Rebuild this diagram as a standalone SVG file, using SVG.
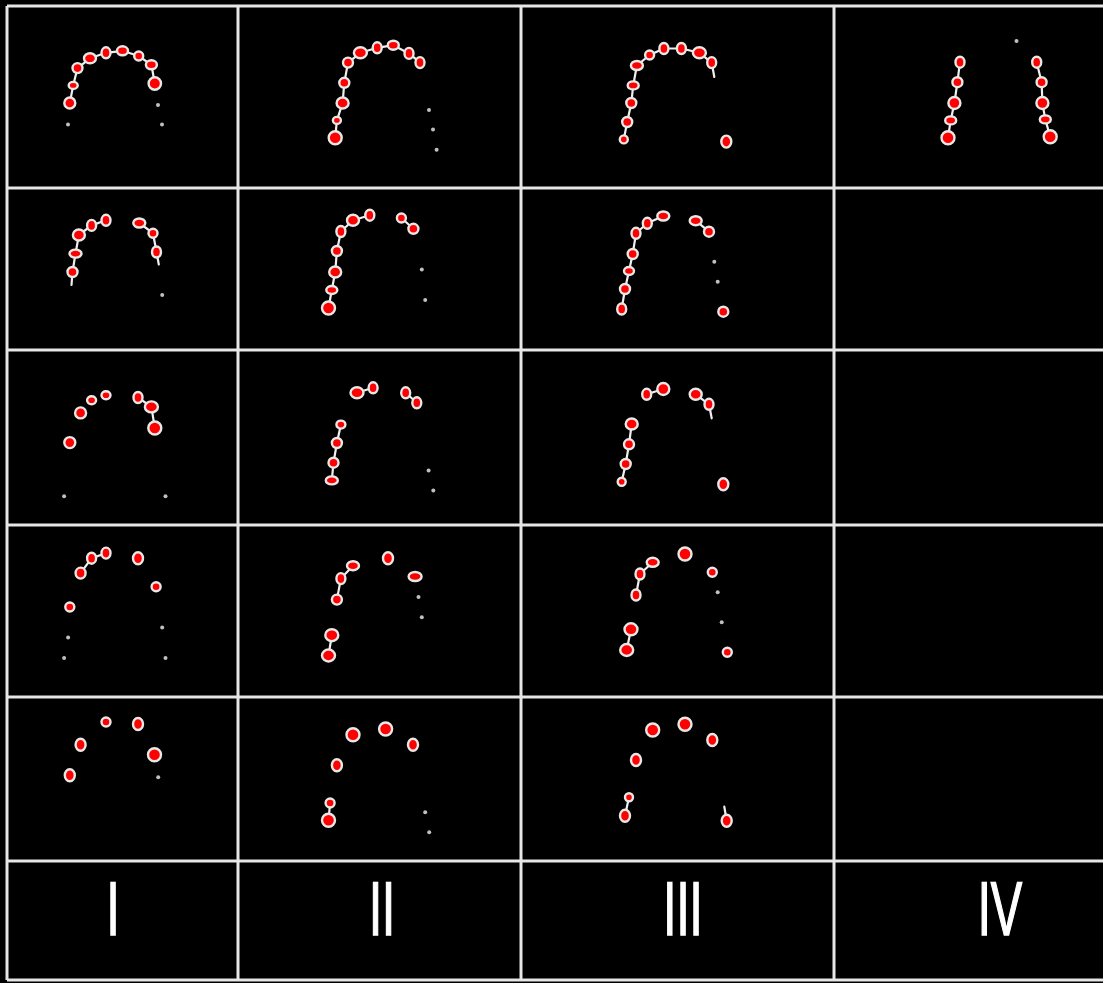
<svg xmlns="http://www.w3.org/2000/svg" width="1103" height="983" viewBox="0 0 1103 983">
<style>
.bg{fill:#000}
.grid{stroke:#e6e6e6;stroke-width:3;fill:none}
.ln{stroke:#f0f0f0;stroke-width:2.2;fill:none;stroke-linejoin:round;stroke-linecap:round}
.d{fill:#ff0000;stroke:#e8e8e8;stroke-width:2.4}
.g{fill:#c0c0c0}
.lbl{fill:#fff;stroke:#fff;stroke-width:1.6;font-family:"Liberation Sans",Arial,sans-serif;font-size:76px;text-anchor:middle}
</style>
<rect class="bg" x="0" y="0" width="1103" height="983"/>
<g id="grid">
<path class="grid" d="M7,6H1103M7,188H1103M7,350H1103M7,525H1103M7,697H1103M7,861H1103M7,980H1103M7,6V980M238,6V980M521,6V980M834,6V980"/>
</g>

<g id="r1c1">
<polyline class="ln" points="69.8,103 73.2,85.4 77.5,68.1 90,58.3 106,52.8 122.5,50.8 138.7,56 151.4,64.8 154.8,83.5"/>
<circle class="d" cx="69.8" cy="103" r="5.5"/><ellipse class="d" cx="73.2" cy="85.4" rx="4.5" ry="3.5"/><circle class="d" cx="77.5" cy="68.1" r="5"/><ellipse class="d" cx="90" cy="58.3" rx="6" ry="5"/><ellipse class="d" cx="106" cy="52.8" rx="4.5" ry="5.5"/><ellipse class="d" cx="122.5" cy="50.8" rx="5.5" ry="4.5"/><circle class="d" cx="138.7" cy="56" r="4.5"/><ellipse class="d" cx="151.4" cy="64.8" rx="5.5" ry="4.5"/><circle class="d" cx="154.8" cy="83.5" r="6.2"/>
<circle class="g" cx="68" cy="124.6" r="2"/><circle class="g" cx="158" cy="105" r="2"/><circle class="g" cx="162" cy="124.6" r="2"/>
</g>
<g id="r1c2">
<polyline class="ln" points="335.2,137.7 336.9,120.4 342.6,103 344.3,82.8 348,62.6 360.4,52.8 377.2,47.8 393.3,45.2 409,53.4 420,62.6"/>
<circle class="d" cx="335.2" cy="137.7" r="6.5"/><ellipse class="d" cx="336.9" cy="120.4" rx="4" ry="3.5"/><ellipse class="d" cx="342.6" cy="103" rx="6" ry="5.5"/><circle class="d" cx="344.3" cy="82.8" r="5"/><circle class="d" cx="348" cy="62.6" r="5"/><ellipse class="d" cx="360.4" cy="52.8" rx="6.5" ry="5.5"/><ellipse class="d" cx="377.2" cy="47.8" rx="4.5" ry="5.5"/><ellipse class="d" cx="393.3" cy="45.2" rx="5.5" ry="4.5"/><ellipse class="d" cx="409" cy="53.4" rx="4.5" ry="5.5"/><ellipse class="d" cx="420" cy="62.6" rx="4.5" ry="5.5"/>
<circle class="g" cx="429" cy="110" r="2"/><circle class="g" cx="433" cy="129.5" r="2"/><circle class="g" cx="436.6" cy="149.8" r="2"/>
</g>
<g id="r1c3">
<polyline class="ln" points="623.8,139.4 627.2,122 631.3,103 633.2,85.4 636.9,65.5 649.6,55 663.9,48.5 681.4,48.5 699.4,52.8 711.7,62.6 714.3,77"/>
<circle class="d" cx="623.8" cy="139.4" r="4"/><circle class="d" cx="627.2" cy="122" r="5"/><circle class="d" cx="631.3" cy="103" r="5"/><ellipse class="d" cx="633.2" cy="85.4" rx="5.5" ry="4"/><ellipse class="d" cx="636.9" cy="65.5" rx="6" ry="4.5"/><circle class="d" cx="649.6" cy="55" r="4.5"/><ellipse class="d" cx="663.9" cy="48.5" rx="4.5" ry="5.5"/><ellipse class="d" cx="681.4" cy="48.5" rx="4.5" ry="5.5"/><ellipse class="d" cx="699.4" cy="52.8" rx="6.5" ry="5.5"/><ellipse class="d" cx="711.7" cy="62.6" rx="4.5" ry="5.5"/>
<ellipse class="d" cx="726.3" cy="141.6" rx="5" ry="6"/>
</g>
<g id="r1c4">
<polyline class="ln" points="960,62.2 957.4,82.2 954.4,103 950.7,120.4 948,137.7"/>
<polyline class="ln" points="1036.7,62.2 1041.6,82.2 1042.4,103 1045.3,119.4 1050.2,136.7"/>
<ellipse class="d" cx="960" cy="62.2" rx="4.5" ry="5.5"/><circle class="d" cx="957.4" cy="82.2" r="5"/><circle class="d" cx="954.4" cy="103" r="6"/><ellipse class="d" cx="950.7" cy="120.4" rx="5.5" ry="4"/><circle class="d" cx="948" cy="137.7" r="6.5"/>
<ellipse class="d" cx="1036.7" cy="62.2" rx="4.5" ry="5.5"/><circle class="d" cx="1041.6" cy="82.2" r="5"/><circle class="d" cx="1042.4" cy="103" r="6"/><ellipse class="d" cx="1045.3" cy="119.4" rx="5.5" ry="4"/><circle class="d" cx="1050.2" cy="136.7" r="6.5"/>
<circle class="g" cx="1016.5" cy="41" r="2"/>
</g>

<g id="r2c1">
<polyline class="ln" points="71.5,285 72.5,272 75.5,253.6 78.9,235 91.6,225.4 106,220.3"/>
<polyline class="ln" points="139.3,223 153,233.2 156.5,252 158.8,264.5"/>
<circle class="d" cx="72.5" cy="272" r="5"/><ellipse class="d" cx="75.5" cy="253.6" rx="6" ry="4"/><ellipse class="d" cx="78.9" cy="235" rx="6" ry="5.5"/><ellipse class="d" cx="91.6" cy="225.4" rx="4.5" ry="5.5"/><ellipse class="d" cx="106" cy="220.3" rx="4.5" ry="5.5"/>
<ellipse class="d" cx="139.3" cy="223" rx="6" ry="4.5"/><circle class="d" cx="153" cy="233.2" r="4.5"/><ellipse class="d" cx="156.5" cy="252" rx="4.5" ry="5.5"/>
<circle class="g" cx="162.2" cy="295" r="2"/>
</g>
<g id="r2c2">
<polyline class="ln" points="328.5,308 331.8,290 335.2,272 336.9,251 340.9,231.5 353,220.3 369.8,215.2"/>
<polyline class="ln" points="401.4,218 413.4,228.8"/>
<circle class="d" cx="328.5" cy="308" r="6.5"/><ellipse class="d" cx="331.8" cy="290" rx="5.5" ry="4"/><ellipse class="d" cx="335.2" cy="272" rx="6" ry="5.5"/><circle class="d" cx="336.9" cy="251" r="5"/><ellipse class="d" cx="340.9" cy="231.5" rx="4.5" ry="5.5"/><ellipse class="d" cx="353" cy="220.3" rx="6" ry="5.5"/><ellipse class="d" cx="369.8" cy="215.2" rx="4.5" ry="5.5"/>
<circle class="d" cx="401.4" cy="218" r="4.5"/><circle class="d" cx="413.4" cy="228.8" r="5"/>
<circle class="g" cx="421.8" cy="269.6" r="2"/><circle class="g" cx="425.2" cy="300" r="2"/>
</g>
<g id="r2c3">
<polyline class="ln" points="621.7,309 625,289 629,271 632.7,254 636,233.3 647.3,223.3 663.3,216"/>
<polyline class="ln" points="695.7,220.7 709,231.7"/>
<ellipse class="d" cx="621.7" cy="309" rx="4.5" ry="5.5"/><circle class="d" cx="625" cy="289" r="5"/><ellipse class="d" cx="629" cy="271" rx="5" ry="4"/><circle class="d" cx="632.7" cy="254" r="5"/><ellipse class="d" cx="636" cy="233.3" rx="4.5" ry="5.5"/><ellipse class="d" cx="647.3" cy="223.3" rx="4.5" ry="5.5"/><ellipse class="d" cx="663.3" cy="216" rx="6" ry="4.5"/>
<ellipse class="d" cx="695.7" cy="220.7" rx="6" ry="4.5"/><circle class="d" cx="709" cy="231.7" r="5"/>
<circle class="g" cx="714.3" cy="261.7" r="2"/><circle class="g" cx="717.7" cy="281.7" r="2"/>
<circle class="d" cx="723.3" cy="311.7" r="5"/>
</g>

<g id="r3c1">
<polyline class="ln" points="138,397.5 151.4,406.9 154.8,428"/>
<circle class="d" cx="69.8" cy="442.6" r="5.5"/><circle class="d" cx="80.6" cy="412.9" r="5.5"/><ellipse class="d" cx="91.6" cy="400.2" rx="4.5" ry="4"/><ellipse class="d" cx="106" cy="395.2" rx="4.5" ry="4"/>
<ellipse class="d" cx="138" cy="397.5" rx="4.5" ry="5.5"/><ellipse class="d" cx="151.4" cy="406.9" rx="6.5" ry="5.5"/><circle class="d" cx="154.8" cy="428" r="6.5"/>
<circle class="g" cx="64.1" cy="496.2" r="2"/><circle class="g" cx="165.5" cy="496.2" r="2"/>
</g>
<g id="r3c2">
<polyline class="ln" points="331.8,480.4 333.5,462.7 336.9,443 340.9,424.6"/>
<polyline class="ln" points="357,392.8 373.1,387.8"/>
<polyline class="ln" points="405.7,392.8 416.8,402.8"/>
<ellipse class="d" cx="331.8" cy="480.4" rx="6" ry="4"/><circle class="d" cx="333.5" cy="462.7" r="5"/><circle class="d" cx="336.9" cy="443" r="5"/><ellipse class="d" cx="340.9" cy="424.6" rx="4.5" ry="4"/>
<ellipse class="d" cx="357" cy="392.8" rx="6.5" ry="5.5"/><ellipse class="d" cx="373.1" cy="387.8" rx="4.5" ry="5.5"/>
<ellipse class="d" cx="405.7" cy="392.8" rx="4.5" ry="5.5"/><ellipse class="d" cx="416.8" cy="402.8" rx="4.5" ry="5.5"/>
<circle class="g" cx="428.6" cy="470.4" r="2"/><circle class="g" cx="433.3" cy="490.5" r="2"/>
</g>
<g id="r3c3">
<polyline class="ln" points="621.7,481.7 625.7,464 629,444.3 631.7,424"/>
<polyline class="ln" points="646.7,394.3 663.3,389"/>
<polyline class="ln" points="695.7,394.3 709,404.3 711.7,418.3"/>
<circle class="d" cx="621.7" cy="481.7" r="4"/><circle class="d" cx="625.7" cy="464" r="5"/><circle class="d" cx="629" cy="444.3" r="5"/><ellipse class="d" cx="631.7" cy="424" rx="6" ry="5.5"/>
<ellipse class="d" cx="646.7" cy="394.3" rx="4.5" ry="5.5"/><circle class="d" cx="663.3" cy="389" r="6"/>
<ellipse class="d" cx="695.7" cy="394.3" rx="6" ry="5.5"/><ellipse class="d" cx="709" cy="404.3" rx="4.5" ry="5.5"/>
<ellipse class="d" cx="723.3" cy="484.3" rx="5" ry="6"/>
</g>

<g id="r4c1">
<polyline class="ln" points="80.6,573.1 91.6,558.2 106,553.1"/>
<circle class="d" cx="69.8" cy="607" r="4.5"/><ellipse class="d" cx="80.6" cy="573.1" rx="5" ry="5.5"/><ellipse class="d" cx="91.6" cy="558.2" rx="4.5" ry="5.5"/><ellipse class="d" cx="106" cy="553.1" rx="4.5" ry="5.5"/>
<ellipse class="d" cx="138" cy="558.2" rx="5" ry="6"/><circle class="d" cx="156.1" cy="586.7" r="4.5"/>
<circle class="g" cx="68.1" cy="637.5" r="2"/><circle class="g" cx="64.1" cy="657.9" r="2"/><circle class="g" cx="162.2" cy="627.4" r="2"/><circle class="g" cx="165.5" cy="657.9" r="2"/>
</g>
<g id="r4c2">
<polyline class="ln" points="328.5,655.5 331.8,635.2"/>
<polyline class="ln" points="336.9,599.6 340.9,578.6 353,565.7"/>
<ellipse class="d" cx="328.5" cy="655.5" rx="6.5" ry="6"/><ellipse class="d" cx="331.8" cy="635.2" rx="6.5" ry="6"/><circle class="d" cx="336.9" cy="599.6" r="5"/><ellipse class="d" cx="340.9" cy="578.6" rx="4.5" ry="5.5"/><ellipse class="d" cx="353" cy="565.7" rx="6" ry="4.5"/>
<ellipse class="d" cx="388" cy="558.2" rx="5" ry="6"/><ellipse class="d" cx="415.1" cy="576.5" rx="6.5" ry="4.5"/>
<circle class="g" cx="418.5" cy="596.9" r="2"/><circle class="g" cx="421.8" cy="617.2" r="2"/>
</g>
<g id="r4c3">
<polyline class="ln" points="626.7,650 631,629.3"/>
<polyline class="ln" points="636,595 640,574 652.7,562.3"/>
<ellipse class="d" cx="626.7" cy="650" rx="6.5" ry="6"/><ellipse class="d" cx="631" cy="629.3" rx="6.5" ry="6"/><ellipse class="d" cx="636" cy="595" rx="4.5" ry="5.5"/><ellipse class="d" cx="640" cy="574" rx="4.5" ry="5.5"/><ellipse class="d" cx="652.7" cy="562.3" rx="6" ry="4.5"/>
<circle class="d" cx="685" cy="554" r="6.5"/><circle class="d" cx="712.3" cy="572.3" r="4.5"/>
<circle class="g" cx="717.7" cy="592.3" r="2"/><circle class="g" cx="721.7" cy="622.3" r="2"/>
<circle class="d" cx="727.3" cy="652.3" r="4.5"/>
</g>

<g id="r5c1">
<ellipse class="d" cx="69.8" cy="775.3" rx="5" ry="6"/><ellipse class="d" cx="80.6" cy="744.7" rx="5" ry="6"/><circle class="d" cx="106" cy="722" r="4.5"/><ellipse class="d" cx="138" cy="724" rx="5" ry="6"/><circle class="d" cx="154.5" cy="754.7" r="6.5"/>
<circle class="g" cx="158.2" cy="777.3" r="2"/>
</g>
<g id="r5c2">
<polyline class="ln" points="328.5,820.3 330.1,803"/>
<circle class="d" cx="328.5" cy="820.3" r="6.5"/><circle class="d" cx="330.1" cy="803" r="4.5"/><ellipse class="d" cx="336.9" cy="765.3" rx="5" ry="6"/><circle class="d" cx="353" cy="734.7" r="6.5"/><circle class="d" cx="385.6" cy="729" r="6.5"/><ellipse class="d" cx="413" cy="744.7" rx="5" ry="6"/>
<circle class="g" cx="425.2" cy="812.3" r="2"/><circle class="g" cx="429.2" cy="832.3" r="2"/>
</g>
<g id="r5c3">
<polyline class="ln" points="625,815.7 629,797.3"/>
<polyline class="ln" points="726.7,820.7 724.3,806.7"/>
<ellipse class="d" cx="625" cy="815.7" rx="5" ry="6"/><circle class="d" cx="629" cy="797.3" r="4"/><ellipse class="d" cx="636" cy="760" rx="5" ry="6"/><circle class="d" cx="652.7" cy="730" r="6.5"/><circle class="d" cx="685" cy="724.3" r="6.5"/><ellipse class="d" cx="712.3" cy="740" rx="5" ry="6"/><ellipse class="d" cx="726.7" cy="820.7" rx="5" ry="6"/>
</g>

<g id="labels">
<text class="lbl" transform="translate(113,935) scale(0.62,1)">I</text>
<text class="lbl" transform="translate(382,935) scale(0.62,1)">II</text>
<text class="lbl" transform="translate(683,935) scale(0.62,1)">III</text>
<text class="lbl" transform="translate(1000,935) scale(0.62,1)">IV</text>
</g>
</svg>
